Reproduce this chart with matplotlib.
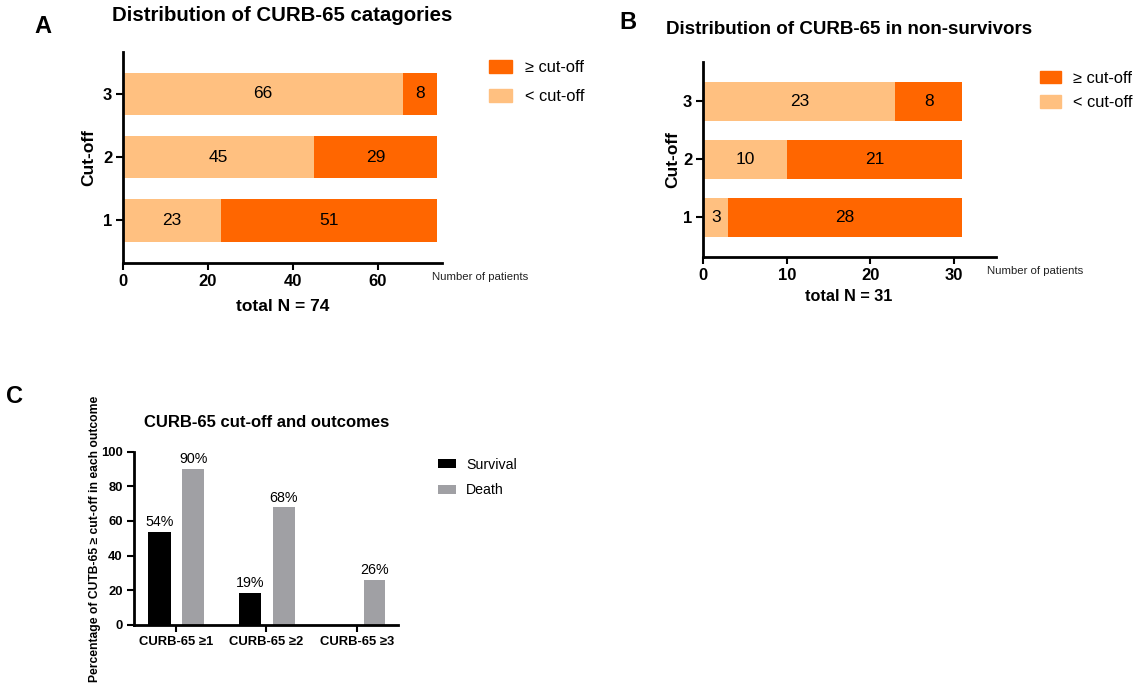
import numpy as np
import matplotlib
matplotlib.use('Agg')
import matplotlib.pyplot as plt
from matplotlib.patches import Patch

plt.rcParams['font.family'] = ['Liberation Sans', 'DejaVu Sans']

# Дані
cutoffs = [1, 2, 3]
a_below = [23, 45, 66]
a_above = [51, 29, 8]
b_below = [3, 10, 23]
b_above = [28, 21, 8]

c_categories = ['CURB-65 \u22651', 'CURB-65 \u22652', 'CURB-65 \u22653']
c_survival = [53.5, 18.6, 0]
c_death = [90, 67.8, 25.9]

light = '#FFC080'
dark = '#FF6600'
grey = '#A0A0A4'

fig = plt.figure(figsize=(11.43, 6.88), dpi=100)


def style_axes(ax, size):
    for s in ['top', 'right']:
        ax.spines[s].set_visible(False)
    for s in ['left', 'bottom']:
        ax.spines[s].set_linewidth(2)
    ax.tick_params(width=1.5, length=5, labelsize=size, pad=3)
    for lbl in ax.get_xticklabels() + ax.get_yticklabels():
        lbl.set_fontweight('bold')


def stacked_panel(rect, below, above, xmax, xticks):
    ax = fig.add_axes(rect)
    b1 = ax.barh(cutoffs, below, height=0.67, color=light)
    b2 = ax.barh(cutoffs, above, left=below, height=0.67, color=dark)
    ax.bar_label(b1, label_type='center', fontsize=12.5)
    ax.bar_label(b2, label_type='center', fontsize=12.5)
    ax.set_xlim(0, xmax)
    ax.set_ylim(0.32, 3.67)
    ax.set_xticks(xticks)
    ax.set_yticks(cutoffs)
    style_axes(ax, 12)
    handles = [Patch(color=dark, label='\u2265 cut-off'),
               Patch(color=light, label='< cut-off')]
    return ax, handles


# Панель A
axA, hA = stacked_panel([0.1079, 0.6173, 0.2791, 0.3076], a_below, a_above,
                        75.3, [0, 20, 40, 60])
fig.text(0.2467, 0.978, 'Distribution of CURB-65 catagories', fontsize=14.7,
         fontweight='bold', ha='center', va='center')
fig.text(0.0779, 0.7711, 'Cut-off', fontsize=12.5, fontweight='bold',
         rotation=90, ha='center', va='center')
fig.text(0.2472, 0.5552, 'total N = 74', fontsize=12.5, fontweight='bold',
         ha='center', va='center')
fig.text(0.3777, 0.5974, 'Number of patients', fontsize=8.2, color='#222222',
         ha='left', va='center')
fig.legend(handles=hA, loc='upper left', bbox_to_anchor=(0.4281, 0.9125),
           frameon=False, fontsize=11.8, borderpad=0, borderaxespad=0,
           handlelength=1.4, handleheight=0.8, handletextpad=0.76,
           labelspacing=0.85)

# Панель B
axB, hB = stacked_panel([0.6153, 0.6269, 0.2563, 0.2826], b_below, b_above,
                        35.1, [0, 10, 20, 30])
fig.text(0.7428, 0.9574, 'Distribution of CURB-65 in non-survivors', fontsize=13.5,
         fontweight='bold', ha='center', va='center')
fig.text(0.5886, 0.7680, 'Cut-off', fontsize=12.5, fontweight='bold',
         rotation=90, ha='center', va='center')
fig.text(0.7427, 0.5688, 'total N = 31', fontsize=11.7, fontweight='bold',
         ha='center', va='center')
fig.text(0.8637, 0.606, 'Number of patients', fontsize=8.2, color='#222222',
         ha='left', va='center')
fig.legend(handles=hB, loc='upper left', bbox_to_anchor=(0.9101, 0.8975),
           frameon=False, fontsize=11.8, borderpad=0, borderaxespad=0,
           handlelength=1.28, handleheight=0.8, handletextpad=0.73,
           labelspacing=0.6)

# Панель C
axC = fig.add_axes([0.1172, 0.0916, 0.2311, 0.2519])
x = np.arange(len(c_categories))
s = axC.bar(x - 0.182, c_survival, width=0.249, color='black', label='Survival')
d = axC.bar(x + 0.192, c_death, width=0.24, color=grey, label='Death')
axC.bar_label(s, labels=[f'{v:.0f}%' if v > 0 else '' for v in c_survival],
              padding=2, fontsize=10.3)
axC.bar_label(d, labels=[f'{v:.0f}%' for v in c_death], padding=2, fontsize=10.3)
axC.set_xlim(-0.464, 2.454)
axC.set_ylim(0, 100)
axC.set_yticks(range(0, 101, 20))
axC.set_xticks(x)
axC.set_xticklabels(c_categories)
style_axes(axC, 9.4)
fig.text(0.2336, 0.3856, 'CURB-65 cut-off and outcomes', fontsize=12,
         fontweight='bold', ha='center', va='center')
fig.text(0.0835, 0.2166, 'Percentage of CUTB-65 \u2265 cut-off in each outcome',
         fontsize=8.7, fontweight='bold', rotation=90, ha='center', va='center')
fig.legend(handles=[s, d], loc='upper left', bbox_to_anchor=(0.3828, 0.3345),
           frameon=False, fontsize=10.2, borderpad=0, borderaxespad=0,
           handlelength=1.3, handleheight=0.6, handletextpad=0.7,
           labelspacing=0.8)

# Літери панелей
fig.text(0.0372, 0.961, 'A', fontsize=17, fontweight='bold', ha='center', va='center')
fig.text(0.5492, 0.967, 'B', fontsize=17, fontweight='bold', ha='center', va='center')
fig.text(0.0125, 0.4234, 'C', fontsize=17, fontweight='bold', ha='center', va='center')

fig.savefig('out.png', dpi=100)
